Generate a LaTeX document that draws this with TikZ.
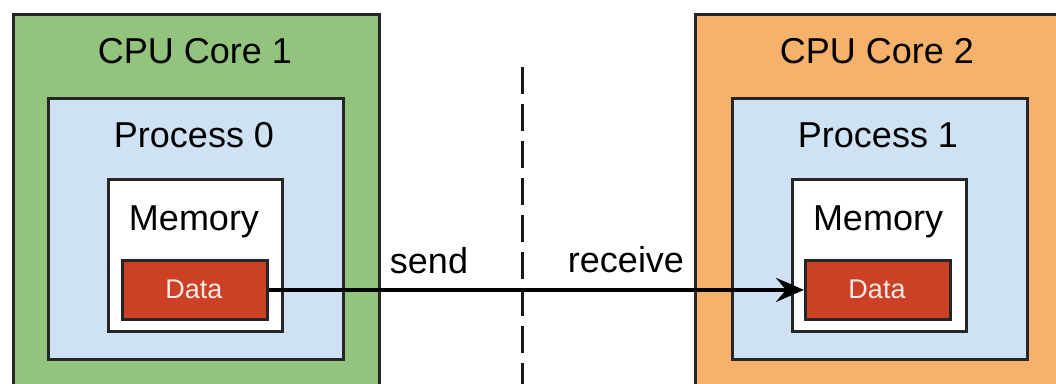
\documentclass[tikz,border=0pt]{standalone}
\usepackage{fontspec}
\setmainfont{Liberation Sans}
\usetikzlibrary{arrows.meta}

\definecolor{coregreen}{HTML}{93C47D}
\definecolor{coreorange}{HTML}{F6B26B}
\definecolor{procblue}{HTML}{CFE2F3}
\definecolor{datared}{HTML}{CC4125}
\definecolor{datatext}{HTML}{FBE9E5}

\tikzset{
  box/.style={draw=black!85, line width=2.8pt, rectangle, anchor=north west, inner sep=0pt},
  corebox/.style={box, minimum width=366pt, minimum height=385pt},
  procbox/.style={box, fill=procblue, minimum width=295pt, minimum height=261pt},
  membox/.style={box, fill=white, minimum width=174pt, minimum height=152pt},
  databox/.style={box, fill=datared, minimum width=145pt, minimum height=59pt},
  title/.style={anchor=base, inner sep=0pt, font=\fontsize{36}{40}\selectfont},
  datalabel/.style={anchor=base, inner sep=0pt, text=datatext, font=\fontsize{27}{30}\selectfont},
  divider/.style={draw=black!90, line width=3pt, dash pattern=on 27pt off 10pt},
  msg/.style={draw=black, line width=4pt, -{Stealth[length=28pt, width=24pt, inset=10pt]}}
}

\begin{document}
\begin{tikzpicture}[x=1pt, y=-1pt]
  \useasboundingbox (0,0) rectangle (1056,383);
  \clip (0,0) rectangle (1056,383);

  % left core
  \node[corebox, fill=coregreen] (core1) at (12,13) {};
  \node[title] (core1t) at (195,63) {CPU Core 1};
  \node[procbox] (proc0) at (47,97) {};
  \node[title] (proc0t) at (194,147) {Process 0};
  \node[membox] (mem0) at (107,178) {};
  \node[title] (mem0t) at (194,230) {Memory};
  \node[databox] (data0) at (121,259) {};
  \node[datalabel] (data0t) at (194,298) {Data};

  % right core
  \node[corebox, fill=coreorange] (core2) at (694,13) {};
  \node[title] (core2t) at (877,63) {CPU Core 2};
  \node[procbox] (proc1) at (731,97) {};
  \node[title] (proc1t) at (878,147) {Process 1};
  \node[membox] (mem1) at (791,178) {};
  \node[title] (mem1t) at (878,230) {Memory};
  \node[databox] (data1) at (804,259) {};
  \node[datalabel] (data1t) at (877,298) {Data};

  % boundary between the cores
  \coordinate (divtop) at (522,67);
  \coordinate (divbot) at (522,390);
  \draw[divider] (divtop) -- (divbot);

  % message transfer
  \draw[msg] (data0.east) -- (data1.west);
  \node[title] (sendt) at (429,273) {send};
  \node[title] (recvt) at (626,272) {receive};
\end{tikzpicture}
\end{document}
